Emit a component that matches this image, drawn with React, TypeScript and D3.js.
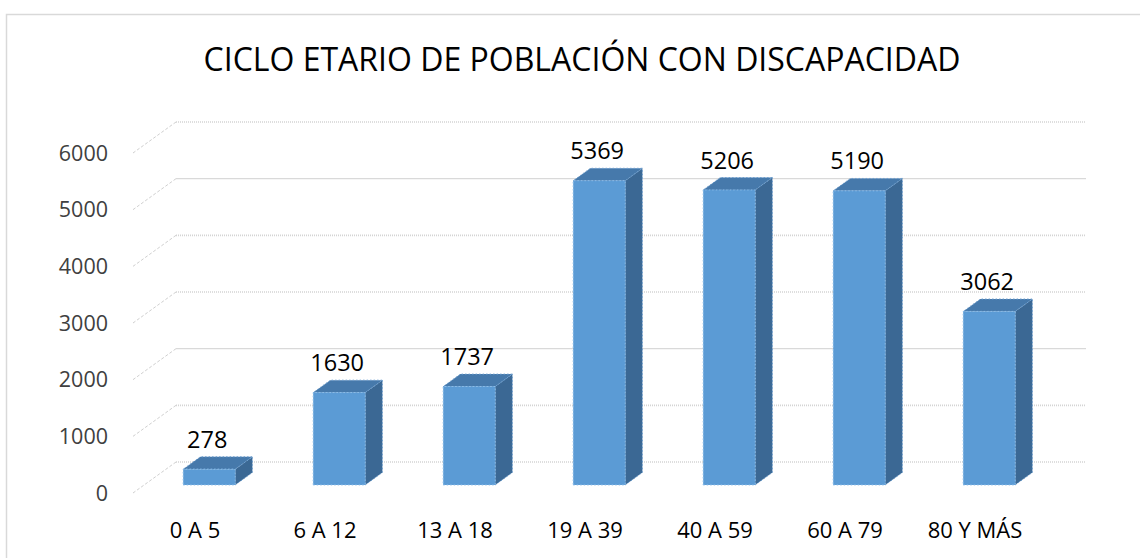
import React from 'react';
import * as d3 from 'd3';

const categories = ['0 A 5', '6 A 12', '13 A 18', '19 A 39', '40 A 59', '60 A 79', '80 Y MÁS'];
const values = [278, 1630, 1737, 5369, 5206, 5190, 3062];
const yTicks = [0, 1000, 2000, 3000, 4000, 5000, 6000];
const title = 'CICLO ETARIO DE POBLACIÓN CON DISCAPACIDAD';

const W = 1140, H = 558;
const font = '"Open Sans", Calibri, sans-serif';

// depth offset of the 3D box (back wall relative to front plane)
const DX = 43, DY = -31;
const BAR_FRONT = 0.26, BAR_BACK = 0.66;

const x = d3.scaleBand<string>()
  .domain(categories)
  .range([133, 1043])
  .paddingInner(0.6)
  .paddingOuter(0.3);

const y = d3.scaleLinear().domain([0, 6000]).range([493, 153]);

const pt = (px: number, py: number, d: number): [number, number] => [px + DX * d, py + DY * d];
const poly = (pts: [number, number][]) => pts.map(p => p.join(',')).join(' ');

// which gridlines come out solid in the reference
const solidTicks = [2000, 5000];

export default function App() {
  const left = x.range()[0], right = x.range()[1];
  return (
    <svg width={W} height={H} style={{ position: 'absolute', left: 0, top: 0, background: '#fff' }}>
      <rect x={6.5} y={14.5} width={W + 20} height={H + 20} fill="#fff" stroke="#d9d9d9" strokeWidth={1.5} />
      <text x={582} y={71} textAnchor="middle" fontFamily={font} fontSize={32} fill="#000">{title}</text>

      {/* gridlines: side wall diagonal + back wall */}
      {yTicks.map(t => {
        const solid = solidTicks.includes(t);
        const [bx, by] = pt(left, y(t), 1);
        const [ex] = pt(right, y(t), 1);
        return (
          <g key={t}>
            <line x1={left} y1={y(t)} x2={bx} y2={by} stroke="#cfcfcf" strokeWidth={1} strokeDasharray="3,2" />
            <line x1={bx} y1={by} x2={ex} y2={by} stroke={solid ? '#d9d9d9' : '#d4d4d4'}
              strokeWidth={solid ? 1.2 : 1.6} strokeDasharray={solid ? undefined : '1,1'} />
            <text x={108} y={y(t)} dy="0.36em" textAnchor="end" fontFamily={font} fontSize={21.5} fill="#404040">{t}</text>
          </g>
        );
      })}

      {/* bars */}
      {categories.map((c, i) => {
        const v = values[i];
        const x0 = x(c)!, x1 = x0 + x.bandwidth();
        const yb = y(0), yt = y(v);
        const f = [pt(x0, yb, BAR_FRONT), pt(x1, yb, BAR_FRONT), pt(x1, yt, BAR_FRONT), pt(x0, yt, BAR_FRONT)];
        const top = [pt(x0, yt, BAR_FRONT), pt(x1, yt, BAR_FRONT), pt(x1, yt, BAR_BACK), pt(x0, yt, BAR_BACK)];
        const side = [pt(x1, yb, BAR_FRONT), pt(x1, yb, BAR_BACK), pt(x1, yt, BAR_BACK), pt(x1, yt, BAR_FRONT)];
        const [lx, ly] = pt((x0 + x1) / 2, yt, BAR_BACK);
        return (
          <g key={c}>
            <polygon points={poly(side)} fill="#3b6894" stroke="#6d9fd0" strokeWidth={1} strokeDasharray="1.5,2" />
            <polygon points={poly(top)} fill="#4679ab" stroke="#6d9fd0" strokeWidth={1} strokeDasharray="1.5,2" />
            <polygon points={poly(f)} fill="#5b9bd5" stroke="#8bbce8" strokeWidth={1} strokeDasharray="1.5,2" />
            <text x={lx - DX * (BAR_BACK - BAR_FRONT) - 2} y={ly - 9} textAnchor="middle" fontFamily={font} fontSize={23.5} fill="#000">{v}</text>
          </g>
        );
      })}

      {/* category labels */}
      {categories.map(c => (
        <text key={c} x={x(c)! + x.bandwidth() / 2 - 3} y={530} dy="0.36em" textAnchor="middle" fontFamily={font} fontSize={22} fill="#000">{c}</text>
      ))}
    </svg>
  );
}
